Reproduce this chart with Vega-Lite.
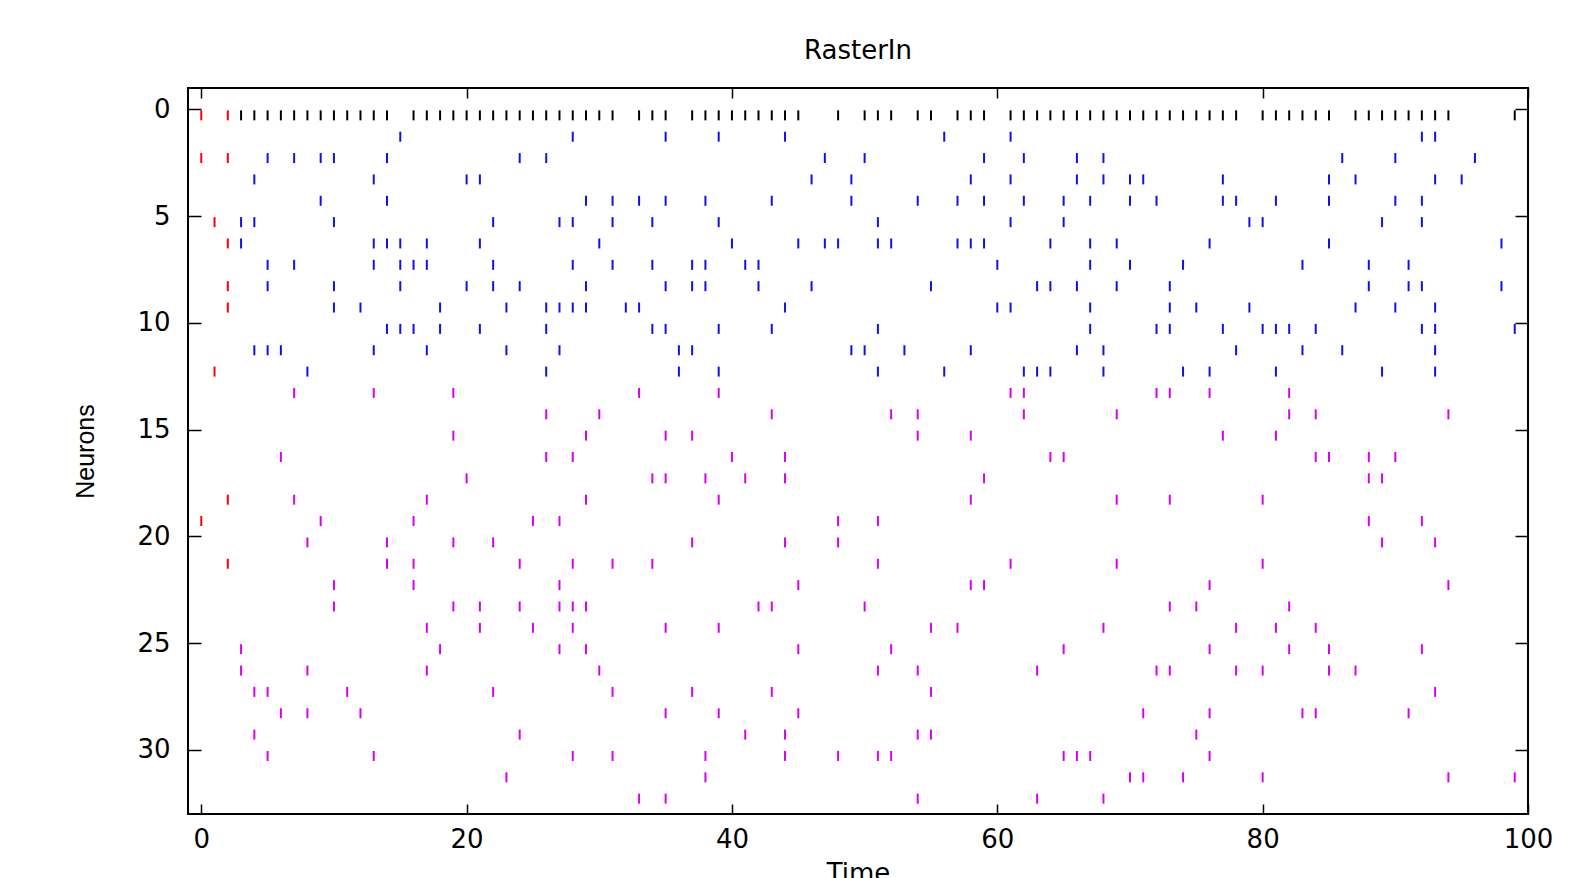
{
"$schema":"https://vega.github.io/schema/vega-lite/v6.json",
"width":1340,"height":726,
"autosize":{"type":"none"},
"padding":{"left":188,"top":88,"right":45,"bottom":64},
"background":"white",
"title":{"text":"RasterIn","font":"DejaVu Sans","fontSize":26,"fontWeight":"normal","color":"black","anchor":"middle","baseline":"alphabetic","offset":2},
"config":{"view":{"stroke":"black","strokeWidth":2},"axis":{"domain":false,"grid":false,"labelFont":"DejaVu Sans","labelFontSize":26,"labelColor":"black","labelFlush":false,"labelOverlap":false,"tickColor":"black","tickWidth":1.5,"titleColor":"black","titleFontWeight":"normal"}},
"data":{"values":[
{"neuron":0,"time":0,"kind":"in"},{"neuron":0,"time":2,"kind":"in"},{"neuron":2,"time":0,"kind":"in"},{"neuron":2,"time":2,"kind":"in"},{"neuron":5,"time":1,"kind":"in"},{"neuron":6,"time":2,"kind":"in"},{"neuron":8,"time":2,"kind":"in"},{"neuron":9,"time":2,"kind":"in"},{"neuron":12,"time":1,"kind":"in"},{"neuron":18,"time":2,"kind":"in"},{"neuron":19,"time":0,"kind":"in"},{"neuron":21,"time":2,"kind":"in"},
{"neuron":0,"time":3,"kind":"out"},{"neuron":0,"time":4,"kind":"out"},{"neuron":0,"time":5,"kind":"out"},{"neuron":0,"time":6,"kind":"out"},{"neuron":0,"time":7,"kind":"out"},{"neuron":0,"time":8,"kind":"out"},{"neuron":0,"time":9,"kind":"out"},{"neuron":0,"time":10,"kind":"out"},{"neuron":0,"time":11,"kind":"out"},{"neuron":0,"time":12,"kind":"out"},{"neuron":0,"time":13,"kind":"out"},{"neuron":0,"time":14,"kind":"out"},{"neuron":0,"time":16,"kind":"out"},{"neuron":0,"time":17,"kind":"out"},{"neuron":0,"time":18,"kind":"out"},{"neuron":0,"time":19,"kind":"out"},{"neuron":0,"time":20,"kind":"out"},{"neuron":0,"time":21,"kind":"out"},{"neuron":0,"time":22,"kind":"out"},{"neuron":0,"time":23,"kind":"out"},{"neuron":0,"time":24,"kind":"out"},{"neuron":0,"time":25,"kind":"out"},{"neuron":0,"time":26,"kind":"out"},{"neuron":0,"time":27,"kind":"out"},{"neuron":0,"time":28,"kind":"out"},{"neuron":0,"time":29,"kind":"out"},{"neuron":0,"time":30,"kind":"out"},{"neuron":0,"time":31,"kind":"out"},{"neuron":0,"time":33,"kind":"out"},{"neuron":0,"time":34,"kind":"out"},{"neuron":0,"time":35,"kind":"out"},{"neuron":0,"time":37,"kind":"out"},{"neuron":0,"time":38,"kind":"out"},{"neuron":0,"time":39,"kind":"out"},{"neuron":0,"time":40,"kind":"out"},{"neuron":0,"time":41,"kind":"out"},{"neuron":0,"time":42,"kind":"out"},{"neuron":0,"time":43,"kind":"out"},{"neuron":0,"time":44,"kind":"out"},{"neuron":0,"time":45,"kind":"out"},{"neuron":0,"time":48,"kind":"out"},{"neuron":0,"time":50,"kind":"out"},{"neuron":0,"time":51,"kind":"out"},{"neuron":0,"time":52,"kind":"out"},{"neuron":0,"time":54,"kind":"out"},{"neuron":0,"time":55,"kind":"out"},{"neuron":0,"time":57,"kind":"out"},{"neuron":0,"time":58,"kind":"out"},{"neuron":0,"time":59,"kind":"out"},{"neuron":0,"time":61,"kind":"out"},{"neuron":0,"time":62,"kind":"out"},{"neuron":0,"time":63,"kind":"out"},{"neuron":0,"time":64,"kind":"out"},{"neuron":0,"time":65,"kind":"out"},{"neuron":0,"time":66,"kind":"out"},{"neuron":0,"time":67,"kind":"out"},{"neuron":0,"time":68,"kind":"out"},{"neuron":0,"time":69,"kind":"out"},{"neuron":0,"time":70,"kind":"out"},{"neuron":0,"time":71,"kind":"out"},{"neuron":0,"time":72,"kind":"out"},{"neuron":0,"time":73,"kind":"out"},{"neuron":0,"time":74,"kind":"out"},{"neuron":0,"time":75,"kind":"out"},{"neuron":0,"time":76,"kind":"out"},{"neuron":0,"time":77,"kind":"out"},{"neuron":0,"time":78,"kind":"out"},{"neuron":0,"time":80,"kind":"out"},{"neuron":0,"time":81,"kind":"out"},{"neuron":0,"time":82,"kind":"out"},{"neuron":0,"time":83,"kind":"out"},{"neuron":0,"time":84,"kind":"out"},{"neuron":0,"time":85,"kind":"out"},{"neuron":0,"time":87,"kind":"out"},{"neuron":0,"time":88,"kind":"out"},{"neuron":0,"time":89,"kind":"out"},{"neuron":0,"time":90,"kind":"out"},{"neuron":0,"time":91,"kind":"out"},{"neuron":0,"time":92,"kind":"out"},{"neuron":0,"time":93,"kind":"out"},{"neuron":0,"time":94,"kind":"out"},{"neuron":0,"time":99,"kind":"out"},
{"neuron":1,"time":15,"kind":"exc"},{"neuron":1,"time":28,"kind":"exc"},{"neuron":1,"time":35,"kind":"exc"},{"neuron":1,"time":39,"kind":"exc"},{"neuron":1,"time":44,"kind":"exc"},{"neuron":1,"time":56,"kind":"exc"},{"neuron":1,"time":61,"kind":"exc"},{"neuron":1,"time":92,"kind":"exc"},{"neuron":1,"time":93,"kind":"exc"},
{"neuron":2,"time":5,"kind":"exc"},{"neuron":2,"time":7,"kind":"exc"},{"neuron":2,"time":9,"kind":"exc"},{"neuron":2,"time":10,"kind":"exc"},{"neuron":2,"time":14,"kind":"exc"},{"neuron":2,"time":24,"kind":"exc"},{"neuron":2,"time":26,"kind":"exc"},{"neuron":2,"time":47,"kind":"exc"},{"neuron":2,"time":50,"kind":"exc"},{"neuron":2,"time":59,"kind":"exc"},{"neuron":2,"time":62,"kind":"exc"},{"neuron":2,"time":66,"kind":"exc"},{"neuron":2,"time":68,"kind":"exc"},{"neuron":2,"time":86,"kind":"exc"},{"neuron":2,"time":90,"kind":"exc"},{"neuron":2,"time":96,"kind":"exc"},
{"neuron":3,"time":4,"kind":"exc"},{"neuron":3,"time":13,"kind":"exc"},{"neuron":3,"time":20,"kind":"exc"},{"neuron":3,"time":21,"kind":"exc"},{"neuron":3,"time":46,"kind":"exc"},{"neuron":3,"time":49,"kind":"exc"},{"neuron":3,"time":58,"kind":"exc"},{"neuron":3,"time":61,"kind":"exc"},{"neuron":3,"time":66,"kind":"exc"},{"neuron":3,"time":68,"kind":"exc"},{"neuron":3,"time":70,"kind":"exc"},{"neuron":3,"time":71,"kind":"exc"},{"neuron":3,"time":77,"kind":"exc"},{"neuron":3,"time":85,"kind":"exc"},{"neuron":3,"time":87,"kind":"exc"},{"neuron":3,"time":93,"kind":"exc"},{"neuron":3,"time":95,"kind":"exc"},
{"neuron":4,"time":9,"kind":"exc"},{"neuron":4,"time":14,"kind":"exc"},{"neuron":4,"time":29,"kind":"exc"},{"neuron":4,"time":31,"kind":"exc"},{"neuron":4,"time":33,"kind":"exc"},{"neuron":4,"time":35,"kind":"exc"},{"neuron":4,"time":38,"kind":"exc"},{"neuron":4,"time":43,"kind":"exc"},{"neuron":4,"time":49,"kind":"exc"},{"neuron":4,"time":54,"kind":"exc"},{"neuron":4,"time":57,"kind":"exc"},{"neuron":4,"time":59,"kind":"exc"},{"neuron":4,"time":62,"kind":"exc"},{"neuron":4,"time":65,"kind":"exc"},{"neuron":4,"time":67,"kind":"exc"},{"neuron":4,"time":70,"kind":"exc"},{"neuron":4,"time":72,"kind":"exc"},{"neuron":4,"time":77,"kind":"exc"},{"neuron":4,"time":78,"kind":"exc"},{"neuron":4,"time":81,"kind":"exc"},{"neuron":4,"time":85,"kind":"exc"},{"neuron":4,"time":90,"kind":"exc"},{"neuron":4,"time":92,"kind":"exc"},
{"neuron":5,"time":3,"kind":"exc"},{"neuron":5,"time":4,"kind":"exc"},{"neuron":5,"time":10,"kind":"exc"},{"neuron":5,"time":22,"kind":"exc"},{"neuron":5,"time":27,"kind":"exc"},{"neuron":5,"time":28,"kind":"exc"},{"neuron":5,"time":31,"kind":"exc"},{"neuron":5,"time":34,"kind":"exc"},{"neuron":5,"time":39,"kind":"exc"},{"neuron":5,"time":51,"kind":"exc"},{"neuron":5,"time":61,"kind":"exc"},{"neuron":5,"time":65,"kind":"exc"},{"neuron":5,"time":79,"kind":"exc"},{"neuron":5,"time":80,"kind":"exc"},{"neuron":5,"time":89,"kind":"exc"},{"neuron":5,"time":92,"kind":"exc"},
{"neuron":6,"time":3,"kind":"exc"},{"neuron":6,"time":13,"kind":"exc"},{"neuron":6,"time":14,"kind":"exc"},{"neuron":6,"time":15,"kind":"exc"},{"neuron":6,"time":17,"kind":"exc"},{"neuron":6,"time":21,"kind":"exc"},{"neuron":6,"time":30,"kind":"exc"},{"neuron":6,"time":40,"kind":"exc"},{"neuron":6,"time":45,"kind":"exc"},{"neuron":6,"time":47,"kind":"exc"},{"neuron":6,"time":48,"kind":"exc"},{"neuron":6,"time":51,"kind":"exc"},{"neuron":6,"time":52,"kind":"exc"},{"neuron":6,"time":57,"kind":"exc"},{"neuron":6,"time":58,"kind":"exc"},{"neuron":6,"time":59,"kind":"exc"},{"neuron":6,"time":64,"kind":"exc"},{"neuron":6,"time":67,"kind":"exc"},{"neuron":6,"time":69,"kind":"exc"},{"neuron":6,"time":76,"kind":"exc"},{"neuron":6,"time":85,"kind":"exc"},{"neuron":6,"time":98,"kind":"exc"},
{"neuron":7,"time":5,"kind":"exc"},{"neuron":7,"time":7,"kind":"exc"},{"neuron":7,"time":13,"kind":"exc"},{"neuron":7,"time":15,"kind":"exc"},{"neuron":7,"time":16,"kind":"exc"},{"neuron":7,"time":17,"kind":"exc"},{"neuron":7,"time":22,"kind":"exc"},{"neuron":7,"time":28,"kind":"exc"},{"neuron":7,"time":31,"kind":"exc"},{"neuron":7,"time":34,"kind":"exc"},{"neuron":7,"time":37,"kind":"exc"},{"neuron":7,"time":38,"kind":"exc"},{"neuron":7,"time":41,"kind":"exc"},{"neuron":7,"time":42,"kind":"exc"},{"neuron":7,"time":60,"kind":"exc"},{"neuron":7,"time":67,"kind":"exc"},{"neuron":7,"time":70,"kind":"exc"},{"neuron":7,"time":74,"kind":"exc"},{"neuron":7,"time":83,"kind":"exc"},{"neuron":7,"time":88,"kind":"exc"},{"neuron":7,"time":91,"kind":"exc"},
{"neuron":8,"time":5,"kind":"exc"},{"neuron":8,"time":10,"kind":"exc"},{"neuron":8,"time":15,"kind":"exc"},{"neuron":8,"time":20,"kind":"exc"},{"neuron":8,"time":22,"kind":"exc"},{"neuron":8,"time":24,"kind":"exc"},{"neuron":8,"time":29,"kind":"exc"},{"neuron":8,"time":35,"kind":"exc"},{"neuron":8,"time":37,"kind":"exc"},{"neuron":8,"time":38,"kind":"exc"},{"neuron":8,"time":42,"kind":"exc"},{"neuron":8,"time":46,"kind":"exc"},{"neuron":8,"time":55,"kind":"exc"},{"neuron":8,"time":63,"kind":"exc"},{"neuron":8,"time":64,"kind":"exc"},{"neuron":8,"time":66,"kind":"exc"},{"neuron":8,"time":69,"kind":"exc"},{"neuron":8,"time":73,"kind":"exc"},{"neuron":8,"time":88,"kind":"exc"},{"neuron":8,"time":91,"kind":"exc"},{"neuron":8,"time":92,"kind":"exc"},{"neuron":8,"time":98,"kind":"exc"},
{"neuron":9,"time":10,"kind":"exc"},{"neuron":9,"time":12,"kind":"exc"},{"neuron":9,"time":18,"kind":"exc"},{"neuron":9,"time":23,"kind":"exc"},{"neuron":9,"time":26,"kind":"exc"},{"neuron":9,"time":27,"kind":"exc"},{"neuron":9,"time":28,"kind":"exc"},{"neuron":9,"time":29,"kind":"exc"},{"neuron":9,"time":32,"kind":"exc"},{"neuron":9,"time":33,"kind":"exc"},{"neuron":9,"time":44,"kind":"exc"},{"neuron":9,"time":60,"kind":"exc"},{"neuron":9,"time":61,"kind":"exc"},{"neuron":9,"time":67,"kind":"exc"},{"neuron":9,"time":73,"kind":"exc"},{"neuron":9,"time":75,"kind":"exc"},{"neuron":9,"time":79,"kind":"exc"},{"neuron":9,"time":87,"kind":"exc"},{"neuron":9,"time":90,"kind":"exc"},{"neuron":9,"time":93,"kind":"exc"},
{"neuron":10,"time":14,"kind":"exc"},{"neuron":10,"time":15,"kind":"exc"},{"neuron":10,"time":16,"kind":"exc"},{"neuron":10,"time":18,"kind":"exc"},{"neuron":10,"time":21,"kind":"exc"},{"neuron":10,"time":26,"kind":"exc"},{"neuron":10,"time":34,"kind":"exc"},{"neuron":10,"time":35,"kind":"exc"},{"neuron":10,"time":39,"kind":"exc"},{"neuron":10,"time":43,"kind":"exc"},{"neuron":10,"time":51,"kind":"exc"},{"neuron":10,"time":67,"kind":"exc"},{"neuron":10,"time":72,"kind":"exc"},{"neuron":10,"time":73,"kind":"exc"},{"neuron":10,"time":77,"kind":"exc"},{"neuron":10,"time":80,"kind":"exc"},{"neuron":10,"time":81,"kind":"exc"},{"neuron":10,"time":82,"kind":"exc"},{"neuron":10,"time":84,"kind":"exc"},{"neuron":10,"time":92,"kind":"exc"},{"neuron":10,"time":93,"kind":"exc"},{"neuron":10,"time":99,"kind":"exc"},
{"neuron":11,"time":4,"kind":"exc"},{"neuron":11,"time":5,"kind":"exc"},{"neuron":11,"time":6,"kind":"exc"},{"neuron":11,"time":13,"kind":"exc"},{"neuron":11,"time":17,"kind":"exc"},{"neuron":11,"time":23,"kind":"exc"},{"neuron":11,"time":27,"kind":"exc"},{"neuron":11,"time":36,"kind":"exc"},{"neuron":11,"time":37,"kind":"exc"},{"neuron":11,"time":49,"kind":"exc"},{"neuron":11,"time":50,"kind":"exc"},{"neuron":11,"time":53,"kind":"exc"},{"neuron":11,"time":58,"kind":"exc"},{"neuron":11,"time":66,"kind":"exc"},{"neuron":11,"time":68,"kind":"exc"},{"neuron":11,"time":78,"kind":"exc"},{"neuron":11,"time":83,"kind":"exc"},{"neuron":11,"time":86,"kind":"exc"},{"neuron":11,"time":93,"kind":"exc"},
{"neuron":12,"time":8,"kind":"exc"},{"neuron":12,"time":26,"kind":"exc"},{"neuron":12,"time":36,"kind":"exc"},{"neuron":12,"time":39,"kind":"exc"},{"neuron":12,"time":51,"kind":"exc"},{"neuron":12,"time":56,"kind":"exc"},{"neuron":12,"time":62,"kind":"exc"},{"neuron":12,"time":63,"kind":"exc"},{"neuron":12,"time":64,"kind":"exc"},{"neuron":12,"time":68,"kind":"exc"},{"neuron":12,"time":74,"kind":"exc"},{"neuron":12,"time":76,"kind":"exc"},{"neuron":12,"time":81,"kind":"exc"},{"neuron":12,"time":89,"kind":"exc"},{"neuron":12,"time":93,"kind":"exc"},
{"neuron":13,"time":7,"kind":"inh"},{"neuron":13,"time":13,"kind":"inh"},{"neuron":13,"time":19,"kind":"inh"},{"neuron":13,"time":33,"kind":"inh"},{"neuron":13,"time":39,"kind":"inh"},{"neuron":13,"time":61,"kind":"inh"},{"neuron":13,"time":62,"kind":"inh"},{"neuron":13,"time":72,"kind":"inh"},{"neuron":13,"time":73,"kind":"inh"},{"neuron":13,"time":76,"kind":"inh"},{"neuron":13,"time":82,"kind":"inh"},
{"neuron":14,"time":26,"kind":"inh"},{"neuron":14,"time":30,"kind":"inh"},{"neuron":14,"time":43,"kind":"inh"},{"neuron":14,"time":52,"kind":"inh"},{"neuron":14,"time":54,"kind":"inh"},{"neuron":14,"time":62,"kind":"inh"},{"neuron":14,"time":69,"kind":"inh"},{"neuron":14,"time":82,"kind":"inh"},{"neuron":14,"time":84,"kind":"inh"},{"neuron":14,"time":94,"kind":"inh"},
{"neuron":15,"time":19,"kind":"inh"},{"neuron":15,"time":29,"kind":"inh"},{"neuron":15,"time":35,"kind":"inh"},{"neuron":15,"time":37,"kind":"inh"},{"neuron":15,"time":54,"kind":"inh"},{"neuron":15,"time":58,"kind":"inh"},{"neuron":15,"time":77,"kind":"inh"},{"neuron":15,"time":81,"kind":"inh"},
{"neuron":16,"time":6,"kind":"inh"},{"neuron":16,"time":26,"kind":"inh"},{"neuron":16,"time":28,"kind":"inh"},{"neuron":16,"time":40,"kind":"inh"},{"neuron":16,"time":44,"kind":"inh"},{"neuron":16,"time":64,"kind":"inh"},{"neuron":16,"time":65,"kind":"inh"},{"neuron":16,"time":84,"kind":"inh"},{"neuron":16,"time":85,"kind":"inh"},{"neuron":16,"time":88,"kind":"inh"},{"neuron":16,"time":90,"kind":"inh"},
{"neuron":17,"time":20,"kind":"inh"},{"neuron":17,"time":34,"kind":"inh"},{"neuron":17,"time":35,"kind":"inh"},{"neuron":17,"time":38,"kind":"inh"},{"neuron":17,"time":41,"kind":"inh"},{"neuron":17,"time":44,"kind":"inh"},{"neuron":17,"time":59,"kind":"inh"},{"neuron":17,"time":88,"kind":"inh"},{"neuron":17,"time":89,"kind":"inh"},
{"neuron":18,"time":7,"kind":"inh"},{"neuron":18,"time":17,"kind":"inh"},{"neuron":18,"time":29,"kind":"inh"},{"neuron":18,"time":39,"kind":"inh"},{"neuron":18,"time":58,"kind":"inh"},{"neuron":18,"time":69,"kind":"inh"},{"neuron":18,"time":73,"kind":"inh"},{"neuron":18,"time":80,"kind":"inh"},
{"neuron":19,"time":9,"kind":"inh"},{"neuron":19,"time":16,"kind":"inh"},{"neuron":19,"time":25,"kind":"inh"},{"neuron":19,"time":27,"kind":"inh"},{"neuron":19,"time":48,"kind":"inh"},{"neuron":19,"time":51,"kind":"inh"},{"neuron":19,"time":88,"kind":"inh"},{"neuron":19,"time":92,"kind":"inh"},
{"neuron":20,"time":8,"kind":"inh"},{"neuron":20,"time":14,"kind":"inh"},{"neuron":20,"time":19,"kind":"inh"},{"neuron":20,"time":22,"kind":"inh"},{"neuron":20,"time":37,"kind":"inh"},{"neuron":20,"time":44,"kind":"inh"},{"neuron":20,"time":48,"kind":"inh"},{"neuron":20,"time":89,"kind":"inh"},{"neuron":20,"time":93,"kind":"inh"},
{"neuron":21,"time":14,"kind":"inh"},{"neuron":21,"time":16,"kind":"inh"},{"neuron":21,"time":24,"kind":"inh"},{"neuron":21,"time":28,"kind":"inh"},{"neuron":21,"time":31,"kind":"inh"},{"neuron":21,"time":34,"kind":"inh"},{"neuron":21,"time":51,"kind":"inh"},{"neuron":21,"time":61,"kind":"inh"},{"neuron":21,"time":69,"kind":"inh"},{"neuron":21,"time":80,"kind":"inh"},
{"neuron":22,"time":10,"kind":"inh"},{"neuron":22,"time":16,"kind":"inh"},{"neuron":22,"time":27,"kind":"inh"},{"neuron":22,"time":45,"kind":"inh"},{"neuron":22,"time":58,"kind":"inh"},{"neuron":22,"time":59,"kind":"inh"},{"neuron":22,"time":76,"kind":"inh"},{"neuron":22,"time":94,"kind":"inh"},
{"neuron":23,"time":10,"kind":"inh"},{"neuron":23,"time":19,"kind":"inh"},{"neuron":23,"time":21,"kind":"inh"},{"neuron":23,"time":24,"kind":"inh"},{"neuron":23,"time":27,"kind":"inh"},{"neuron":23,"time":28,"kind":"inh"},{"neuron":23,"time":29,"kind":"inh"},{"neuron":23,"time":42,"kind":"inh"},{"neuron":23,"time":43,"kind":"inh"},{"neuron":23,"time":50,"kind":"inh"},{"neuron":23,"time":73,"kind":"inh"},{"neuron":23,"time":75,"kind":"inh"},{"neuron":23,"time":82,"kind":"inh"},
{"neuron":24,"time":17,"kind":"inh"},{"neuron":24,"time":21,"kind":"inh"},{"neuron":24,"time":25,"kind":"inh"},{"neuron":24,"time":28,"kind":"inh"},{"neuron":24,"time":35,"kind":"inh"},{"neuron":24,"time":39,"kind":"inh"},{"neuron":24,"time":55,"kind":"inh"},{"neuron":24,"time":57,"kind":"inh"},{"neuron":24,"time":68,"kind":"inh"},{"neuron":24,"time":78,"kind":"inh"},{"neuron":24,"time":81,"kind":"inh"},{"neuron":24,"time":84,"kind":"inh"},
{"neuron":25,"time":3,"kind":"inh"},{"neuron":25,"time":18,"kind":"inh"},{"neuron":25,"time":27,"kind":"inh"},{"neuron":25,"time":29,"kind":"inh"},{"neuron":25,"time":45,"kind":"inh"},{"neuron":25,"time":52,"kind":"inh"},{"neuron":25,"time":65,"kind":"inh"},{"neuron":25,"time":76,"kind":"inh"},{"neuron":25,"time":82,"kind":"inh"},{"neuron":25,"time":85,"kind":"inh"},{"neuron":25,"time":92,"kind":"inh"},
{"neuron":26,"time":3,"kind":"inh"},{"neuron":26,"time":8,"kind":"inh"},{"neuron":26,"time":17,"kind":"inh"},{"neuron":26,"time":30,"kind":"inh"},{"neuron":26,"time":51,"kind":"inh"},{"neuron":26,"time":54,"kind":"inh"},{"neuron":26,"time":63,"kind":"inh"},{"neuron":26,"time":72,"kind":"inh"},{"neuron":26,"time":73,"kind":"inh"},{"neuron":26,"time":78,"kind":"inh"},{"neuron":26,"time":80,"kind":"inh"},{"neuron":26,"time":85,"kind":"inh"},{"neuron":26,"time":87,"kind":"inh"},
{"neuron":27,"time":4,"kind":"inh"},{"neuron":27,"time":5,"kind":"inh"},{"neuron":27,"time":11,"kind":"inh"},{"neuron":27,"time":22,"kind":"inh"},{"neuron":27,"time":31,"kind":"inh"},{"neuron":27,"time":37,"kind":"inh"},{"neuron":27,"time":43,"kind":"inh"},{"neuron":27,"time":55,"kind":"inh"},{"neuron":27,"time":93,"kind":"inh"},
{"neuron":28,"time":6,"kind":"inh"},{"neuron":28,"time":8,"kind":"inh"},{"neuron":28,"time":12,"kind":"inh"},{"neuron":28,"time":35,"kind":"inh"},{"neuron":28,"time":39,"kind":"inh"},{"neuron":28,"time":45,"kind":"inh"},{"neuron":28,"time":71,"kind":"inh"},{"neuron":28,"time":76,"kind":"inh"},{"neuron":28,"time":83,"kind":"inh"},{"neuron":28,"time":84,"kind":"inh"},{"neuron":28,"time":91,"kind":"inh"},
{"neuron":29,"time":4,"kind":"inh"},{"neuron":29,"time":24,"kind":"inh"},{"neuron":29,"time":41,"kind":"inh"},{"neuron":29,"time":44,"kind":"inh"},{"neuron":29,"time":54,"kind":"inh"},{"neuron":29,"time":55,"kind":"inh"},{"neuron":29,"time":75,"kind":"inh"},
{"neuron":30,"time":5,"kind":"inh"},{"neuron":30,"time":13,"kind":"inh"},{"neuron":30,"time":28,"kind":"inh"},{"neuron":30,"time":31,"kind":"inh"},{"neuron":30,"time":38,"kind":"inh"},{"neuron":30,"time":44,"kind":"inh"},{"neuron":30,"time":48,"kind":"inh"},{"neuron":30,"time":51,"kind":"inh"},{"neuron":30,"time":52,"kind":"inh"},{"neuron":30,"time":65,"kind":"inh"},{"neuron":30,"time":66,"kind":"inh"},{"neuron":30,"time":67,"kind":"inh"},{"neuron":30,"time":76,"kind":"inh"},
{"neuron":31,"time":23,"kind":"inh"},{"neuron":31,"time":38,"kind":"inh"},{"neuron":31,"time":70,"kind":"inh"},{"neuron":31,"time":71,"kind":"inh"},{"neuron":31,"time":74,"kind":"inh"},{"neuron":31,"time":80,"kind":"inh"},{"neuron":31,"time":94,"kind":"inh"},{"neuron":31,"time":99,"kind":"inh"},
{"neuron":32,"time":33,"kind":"inh"},{"neuron":32,"time":35,"kind":"inh"},{"neuron":32,"time":54,"kind":"inh"},{"neuron":32,"time":63,"kind":"inh"},{"neuron":32,"time":68,"kind":"inh"}
]},
"layer":[
{"mark":{"type":"tick","orient":"vertical","size":10,"thickness":2,"yOffset":6,"opacity":1},
 "encoding":{
  "x":{"field":"time","type":"quantitative","scale":{"domain":[-1,100],"nice":false,"zero":false},
       "axis":{"orient":"bottom","values":[0,20,40,60,80,100],"tickSize":-10,"labelPadding":22,"title":"Time","titleFont":"DejaVu Sans","titleFontSize":26,"titleX":670,"titleY":67,"titleBaseline":"alphabetic","titleAnchor":"middle","titleAlign":"center"}},
  "y":{"field":"neuron","type":"quantitative","scale":{"domain":[-1,33],"nice":false,"zero":false,"reverse":true},
       "axis":{"orient":"left","values":[0,5,10,15,20,25,30],"tickSize":-13,"labelPadding":31,"title":"Neurons","titleFont":"Liberation Sans","titleFontSize":25,"titleAngle":-90,"titleX":-95,"titleY":363,"titleBaseline":"alphabetic","titleAlign":"center"}},
  "color":{"field":"kind","type":"nominal","scale":{"domain":["in","out","exc","inh"],"range":["#ff0000","#000000","#1010ee","#d800f0"]},"legend":null}
 }},
{"mark":{"type":"tick","orient":"vertical","size":10,"thickness":2,"opacity":0},
 "encoding":{
  "x":{"field":"time","type":"quantitative","axis":{"orient":"top","values":[0,20,40,60,80,100],"tickSize":-10,"labels":false,"title":null}},
  "y":{"field":"neuron","type":"quantitative","axis":{"orient":"right","values":[0,5,10,15,20,25,30],"tickSize":-13,"labels":false,"title":null}}
 }}
],
"resolve":{"axis":{"x":"independent","y":"independent"}}
}
